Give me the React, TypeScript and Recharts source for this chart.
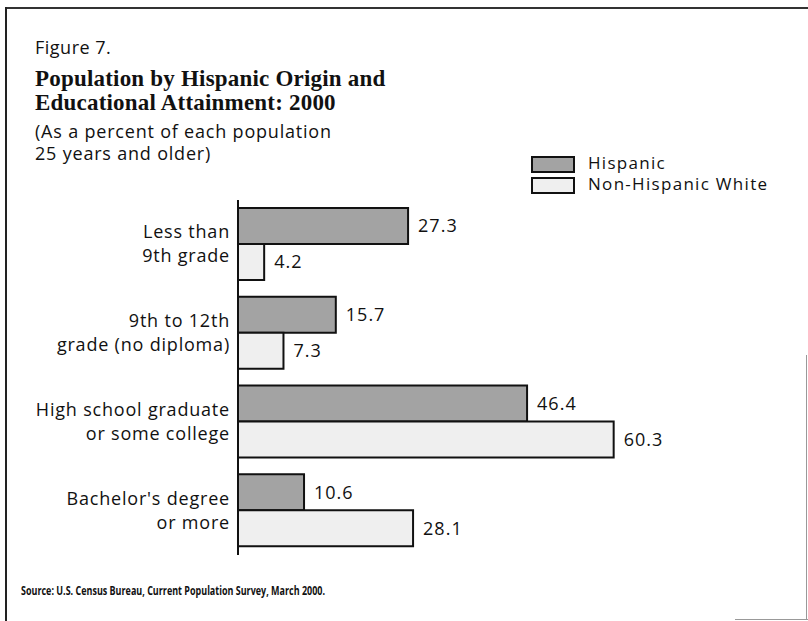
import React from 'react';
import { BarChart, Bar, XAxis, YAxis, LabelList } from 'recharts';

const categories = [
  ['Less than', '9th grade'],
  ['9th to 12th', 'grade (no diploma)'],
  ['High school graduate', 'or some college'],
  ["Bachelor's degree", 'or more'],
];
const hispanic = [27.3, 15.7, 46.4, 10.6];
const nonHispanicWhite = [4.2, 7.3, 60.3, 28.1];

const data = categories.map((lines, i) => ({
  cat: lines.join('\n'),
  hispanic: hispanic[i],
  nhw: nonHispanicWhite[i],
}));

const SANS = '"Open Sans", "Noto Sans", sans-serif';
const HISP_FILL = '#a3a3a3';
const NHW_FILL = '#efefef';

function CategoryTick(props: any) {
  const { x, y, payload } = props;
  const lines = String(payload.value).split('\n');
  return (
    <text x={x} y={y} textAnchor="end" fontFamily={SANS} fontSize={18} letterSpacing={0.8} fill="#111">
      <tspan x={x} dy={-6}>{lines[0]}</tspan>
      <tspan x={x} dy={24}>{lines[1]}</tspan>
    </text>
  );
}

function Swatch({ fill }: { fill: string }) {
  return (
    <div
      style={{
        width: 40,
        height: 13,
        background: fill,
        border: '2px solid #111',
        display: 'inline-block',
        verticalAlign: 'middle',
        marginRight: 13,
      }}
    />
  );
}

const fmt = (v: any) => Number(v).toFixed(1);

export default function App() {
  return (
    <div style={{ position: 'absolute', left: 0, top: 0, width: 808, height: 621, background: '#fff', fontFamily: SANS, color: '#111' }}>
      {/* frame */}
      <div style={{ position: 'absolute', left: 5, top: 7, width: 803, height: 0, borderTop: '2px solid #333' }} />
      <div style={{ position: 'absolute', left: 5, top: 7, width: 0, height: 614, borderLeft: '2px solid #222' }} />
      <div style={{ position: 'absolute', left: 806, top: 355, width: 0, height: 265, borderLeft: '1px solid #999' }} />
      <div style={{ position: 'absolute', left: 735, top: 619, width: 73, height: 0, borderTop: '1px solid #999' }} />

      <div style={{ position: 'absolute', left: 35, top: 35, fontSize: 18, letterSpacing: 0.5 }}>Figure 7.</div>
      <div style={{ position: 'absolute', left: 35, top: 67, fontSize: 23, fontWeight: 'bold', fontFamily: '"Liberation Serif", serif', lineHeight: '24px', letterSpacing: 0.2 }}>
        Population by Hispanic Origin and
        <br />
        Educational Attainment: 2000
      </div>
      <div style={{ position: 'absolute', left: 35, top: 120, fontSize: 18, lineHeight: '22px', letterSpacing: 0.8 }}>
        (As a percent of each population
        <br />
        25 years and older)
      </div>

      <div style={{ position: 'absolute', left: 531, top: 152, fontSize: 17, lineHeight: '21px', letterSpacing: 1.3 }}>
        <div style={{ height: 21 }}><Swatch fill={HISP_FILL} />Hispanic</div>
        <div style={{ height: 21 }}><Swatch fill={NHW_FILL} />Non-Hispanic White</div>
      </div>

      <div style={{ position: 'absolute', left: 0, top: 0 }}>
        <BarChart
          width={808}
          height={621}
          data={data}
          layout="vertical"
          margin={{ top: 200, right: 71.6, bottom: 66, left: 0 }}
          barGap={0}
          barSize={36}
        >
          <XAxis type="number" domain={[0, 80]} hide />
          <YAxis
            type="category"
            dataKey="cat"
            width={238}
            axisLine={{ stroke: '#111', strokeWidth: 2 }}
            tickLine={false}
            tick={<CategoryTick />}
            interval={0}
          />
          <Bar dataKey="hispanic" fill={HISP_FILL} stroke="#111" strokeWidth={2} isAnimationActive={false}>
            <LabelList dataKey="hispanic" position="right" offset={10} fill="#111" fontSize={18} letterSpacing={1} fontFamily={SANS} formatter={fmt} />
          </Bar>
          <Bar dataKey="nhw" fill={NHW_FILL} stroke="#111" strokeWidth={2} isAnimationActive={false}>
            <LabelList dataKey="nhw" position="right" offset={10} fill="#111" fontSize={18} letterSpacing={1} fontFamily={SANS} formatter={fmt} />
          </Bar>
        </BarChart>
      </div>

      <svg style={{ position: 'absolute', left: 0, top: 0 }} width={808} height={621} pointerEvents="none">
        <text x={21} y={595} fontFamily={SANS} fontSize={13} fontWeight={700} fill="#111" textLength={304} lengthAdjust="spacingAndGlyphs">
          Source: U.S. Census Bureau, Current Population Survey, March 2000.
        </text>
      </svg>
    </div>
  );
}
